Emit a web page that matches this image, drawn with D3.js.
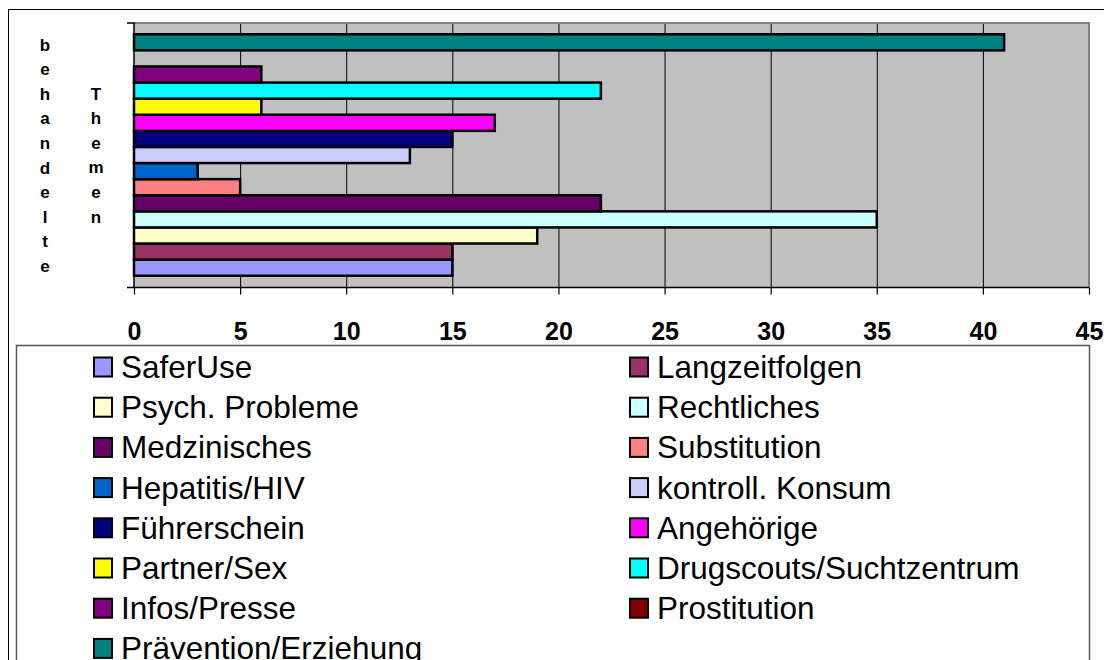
<!DOCTYPE html>
<html>
<head>
<meta charset="utf-8">
<script src="https://cdn.jsdelivr.net/npm/d3@7"></script>
<style>
  body { margin: 0; background: #fff; }
  svg { display: block; font-family: "Liberation Sans", Arial, sans-serif; }
</style>
</head>
<body>
<svg id="chart" width="1104" height="660"></svg>
<script>
// series, bottom to top in the plot, row-major in the legend
const series = [
  "SaferUse", "Langzeitfolgen", "Psych. Probleme", "Rechtliches",
  "Medzinisches", "Substitution", "Hepatitis/HIV", "kontroll. Konsum",
  "Führerschein", "Angehörige", "Partner/Sex", "Drugscouts/Suchtzentrum",
  "Infos/Presse", "Prostitution", "Prävention/Erziehung"
];
const values = [15, 15, 19, 35, 22, 5, 3, 13, 15, 17, 6, 22, 6, 0, 41];
const colors = [
  "#9999FF", "#993366", "#FFFFCC", "#CCFFFF",
  "#660066", "#FF8080", "#0066CC", "#CCCCFF",
  "#000080", "#FF00FF", "#FFFF00", "#00FFFF",
  "#800080", "#800000", "#008080"
];
const xTicks = [0, 5, 10, 15, 20, 25, 30, 35, 40, 45];
const titleWords = ["behandelte", "Themen"];

const data = series.map((s, i) => ({ name: s, value: values[i], color: colors[i] }));

const svg = d3.select("#chart");
const plot = { left: 134, right: 1089, top: 23, bottom: 287 };

// outer chart frame (cut off on right/bottom like the source)
svg.append("rect")
  .attr("x", 8.5).attr("y", 9.5)
  .attr("width", 1200).attr("height", 800)
  .attr("fill", "none").attr("stroke", "#000").attr("stroke-width", 1);

const x = d3.scaleLinear().domain([0, 45]).range([plot.left, plot.right]);
const y = d3.scaleBand()
  .domain(series)
  .range([plot.bottom, plot.top])
  .paddingInner(0)
  .paddingOuter(0.7);

// plot background
svg.append("rect")
  .attr("x", plot.left).attr("y", plot.top)
  .attr("width", plot.right - plot.left).attr("height", plot.bottom - plot.top)
  .attr("fill", "#C0C0C0");

// vertical gridlines
svg.append("g")
  .selectAll("line")
  .data(xTicks.slice(1, -1))
  .join("line")
  .attr("x1", d => x(d) + 0.5).attr("x2", d => x(d) + 0.5)
  .attr("y1", plot.top).attr("y2", plot.bottom)
  .attr("stroke", "#000").attr("stroke-width", 1);

// plot border top & right
svg.append("path")
  .attr("d", `M${plot.left},${plot.top} H${plot.right} V${plot.bottom}`)
  .attr("fill", "none").attr("stroke", "#808080").attr("stroke-width", 2);

// bars
svg.append("g")
  .selectAll("rect")
  .data(data.filter(d => d.value > 0))
  .join("rect")
  .attr("x", x(0))
  .attr("y", d => y(d.name))
  .attr("width", d => x(d.value) - x(0))
  .attr("height", y.bandwidth())
  .attr("fill", d => d.color)
  .attr("stroke", "#000")
  .attr("stroke-width", 2.5);

// x axis
const xAxis = svg.append("g")
  .attr("transform", `translate(0,${plot.bottom + 0.5})`)
  .call(d3.axisBottom(x).tickValues(xTicks).tickSize(7).tickPadding(28).tickSizeOuter(0));
xAxis.select(".domain")
  .attr("d", `M${plot.left - 7},0H${plot.right}`)
  .attr("stroke", "#000").attr("stroke-width", 1.5);
xAxis.selectAll(".tick line").attr("stroke", "#000").attr("stroke-width", 1.2);
xAxis.selectAll(".tick text")
  .attr("fill", "#000")
  .style("font-family", "'Liberation Sans', Arial, sans-serif")
  .style("font-size", "25px")
  .style("font-weight", "bold");

// y axis line with ticks at the category edges
svg.append("path")
  .attr("d", `M${plot.left - 7},${plot.top}H${plot.left}V${plot.bottom}`)
  .attr("fill", "none").attr("stroke", "#000").attr("stroke-width", 1.5);

// vertical stacked axis title
const colX = [45, 96];
const colStart = [50.5, 99.5];
titleWords.forEach((w, c) => {
  const t = svg.append("text")
    .attr("text-anchor", "middle")
    .style("font-size", "17px")
    .style("font-weight", "bold")
    .attr("fill", "#000");
  w.split("").forEach((ch, i) => {
    t.append("tspan")
      .attr("x", colX[c])
      .attr("y", colStart[c] + i * 24.6)
      .text(ch);
  });
});

// legend
svg.append("rect")
  .attr("x", 16.5).attr("y", 345.5)
  .attr("width", 1073).attr("height", 400)
  .attr("fill", "#fff").attr("stroke", "#555").attr("stroke-width", 1.5);

const legendColX = [94, 630];
const legend = svg.append("g")
  .selectAll("g")
  .data(data)
  .join("g")
  .attr("transform", (d, i) => `translate(${legendColX[i % 2]},${367 + Math.floor(i / 2) * 40.2})`);

legend.append("rect")
  .attr("x", 0).attr("y", -9.5)
  .attr("width", 18).attr("height", 19)
  .attr("fill", d => d.color)
  .attr("stroke", "#000").attr("stroke-width", 2);

legend.append("text")
  .attr("x", 27)
  .attr("y", 11)
  .style("font-size", "31.5px")
  .attr("fill", "#000")
  .text(d => d.name);
</script>
</body>
</html>
